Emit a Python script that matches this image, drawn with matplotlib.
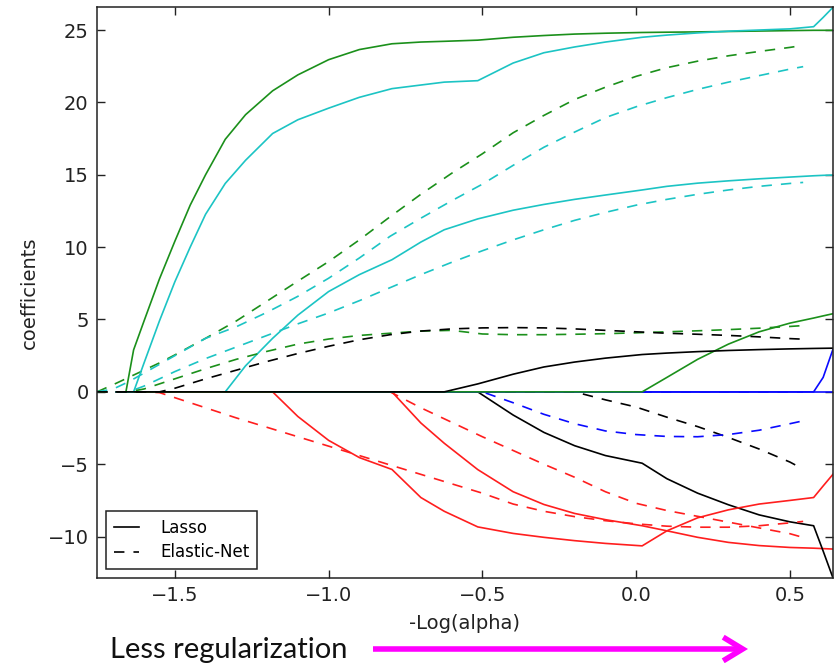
import matplotlib
matplotlib.use("Agg")
import matplotlib.pyplot as plt
from matplotlib.patches import FancyArrowPatch

plt.rcParams["lines.scale_dashes"] = False
plt.rcParams["font.family"] = ["DejaVu Sans"]

# -log10(alpha) grids of the two regularisation paths
lasso_x = [-1.69, -1.659, -1.634, -1.6, -1.55, -1.5, -1.45, -1.4, -1.336, -1.27,
           -1.182, -1.1, -1.0, -0.9, -0.794, -0.7, -0.624, -0.515, -0.4, -0.3,
           -0.2, -0.1, 0.0195, 0.1, 0.2, 0.3, 0.4, 0.5, 0.577, 0.608, 0.640]
enet_x = [-1.753, -1.7, -1.65, -1.6, -1.55, -1.5, -1.4, -1.3, -1.2, -1.1, -1.0,
          -0.9, -0.8, -0.7, -0.6, -0.5, -0.4, -0.3, -0.2, -0.1, 0.0, 0.1, 0.2,
          0.3, 0.4, 0.5, 0.543]

# Lasso coefficients per feature
lasso_age = [0.0] * 31
lasso_sex = [0.0] * 15 + [-2.15, -3.55, -5.37, -6.9, -7.78, -8.4, -8.83, -9.25,
                          -9.6, -10.05, -10.4, -10.62, -10.75, -10.8, -10.83, -10.86]
lasso_bmi = [0, 0, 2.9, 4.9, 7.8, 10.4, 12.9, 15.0, 17.45, 19.15, 20.8, 21.9,
             22.95, 23.65, 24.05, 24.17, 24.22, 24.3, 24.5, 24.62, 24.72, 24.78,
             24.83, 24.85, 24.87, 24.9, 24.93, 24.96, 24.98, 24.98, 24.98]
lasso_bp = [0.0] * 9 + [1.8, 3.7, 5.3, 6.93, 8.1, 9.13, 10.35, 11.2, 11.95, 12.55,
                        12.95, 13.3, 13.6, 13.95, 14.2, 14.42, 14.58, 14.72, 14.84,
                        14.93, 14.96, 14.98]
lasso_s1 = [0.0] * 18 + [-1.6, -2.8, -3.72, -4.4, -4.93, -6.0, -7.0, -7.8, -8.5,
                         -8.98, -9.25, -11.0, -12.86]
lasso_s2 = [0.0] * 29 + [1.0, 2.95]
lasso_s3 = [0.0] * 11 + [-1.7, -3.35, -4.54, -5.36, -7.3, -8.25, -9.33, -9.78,
                         -10.05, -10.28, -10.47, -10.64, -9.6, -8.7, -8.15, -7.75,
                         -7.5, -7.3, -6.5, -5.69]
lasso_s4 = [0.0] * 23 + [1.0, 2.25, 3.3, 4.15, 4.75, 5.1, 5.25, 5.4]
lasso_s5 = [0, 0, 0, 2.0, 4.9, 7.6, 10.0, 12.27, 14.4, 16.0, 17.85, 18.8, 19.6,
            20.35, 20.95, 21.2, 21.4, 21.5, 22.72, 23.43, 23.83, 24.17, 24.5,
            24.65, 24.8, 24.92, 25.0, 25.08, 25.23, 25.87, 26.57]
lasso_s6 = [0.0] * 17 + [0.55, 1.22, 1.72, 2.06, 2.33, 2.58, 2.68, 2.78, 2.86,
                         2.92, 2.97, 3.0, 3.01, 3.02]

# Elastic-Net coefficients per feature
enet_age = [0.0] * 27
enet_sex = [0.0] * 13 + [-1.1, -2.1, -3.1, -4.05, -5.0, -5.9, -6.9, -7.7, -8.2,
                         -8.6, -9.0, -9.4, -9.8, -10.06]
enet_bmi = [0, 0.5, 1.0, 1.5, 2.0, 2.55, 3.7, 4.9, 6.27, 7.65, 9.0, 10.5, 12.1,
            13.65, 15.1, 16.45, 17.9, 19.1, 20.2, 21.05, 21.8, 22.4, 22.85,
            23.22, 23.52, 23.8, 23.94]
enet_bp = [0, 0, 0, 0.4, 0.9, 1.4, 2.3, 3.1, 3.9, 4.7, 5.45, 6.3, 7.2, 8.1, 8.95,
           9.75, 10.5, 11.2, 11.85, 12.4, 12.9, 13.3, 13.65, 13.95, 14.2, 14.4,
           14.47]
enet_s1 = [0.0] * 19 + [-0.55, -1.05, -1.75, -2.4, -3.15, -3.95, -4.85, -5.34]
enet_s2 = [0.0] * 16 + [-0.75, -1.55, -2.2, -2.7, -2.95, -3.08, -3.1, -2.95,
                        -2.65, -2.2, -2.0]
enet_s3 = [0, 0, 0, 0, -0.05, -0.4, -1.1, -1.8, -2.45, -3.1, -3.75, -4.4, -5.05,
           -5.7, -6.35, -7.0, -7.75, -8.25, -8.62, -8.9, -9.12, -9.28, -9.35,
           -9.35, -9.25, -9.05, -8.95]
enet_s4 = [0, 0, 0, 0.2, 0.55, 0.9, 1.6, 2.25, 2.8, 3.3, 3.65, 3.9, 4.05, 4.2,
           4.25, 4.0, 3.95, 3.95, 3.98, 4.02, 4.08, 4.15, 4.22, 4.3, 4.4, 4.52,
           4.58]
enet_s5 = [0, 0.2, 0.7, 1.3, 1.9, 2.5, 3.7, 4.5, 5.5, 6.6, 7.85, 9.25, 10.75,
           12.0, 13.2, 14.35, 15.65, 16.9, 17.95, 18.95, 19.7, 20.33, 20.9, 21.4,
           21.85, 22.3, 22.47]
enet_s6 = [0, 0, 0, 0, 0, 0.25, 0.9, 1.5, 2.1, 2.65, 3.15, 3.6, 3.95, 4.2, 4.35,
           4.42, 4.44, 4.42, 4.35, 4.25, 4.15, 4.05, 3.98, 3.9, 3.8, 3.68, 3.64]

lasso_coefs = [lasso_age, lasso_sex, lasso_bmi, lasso_bp, lasso_s1,
               lasso_s2, lasso_s3, lasso_s4, lasso_s5, lasso_s6]
enet_coefs = [enet_age, enet_sex, enet_bmi, enet_bp, enet_s1,
              enet_s2, enet_s3, enet_s4, enet_s5, enet_s6]
colors = ["#0a0aff", "#ff1e1e", "#1b901b", "#1cc4c4", "#000000"] * 2

x_ticks = [-1.5, -1.0, -0.5, 0.0, 0.5]
y_ticks = [-10, -5, 0, 5, 10, 15, 20, 25]

W, H = 836, 663
fig = plt.figure(figsize=(W / 100, H / 100), dpi=100)
ax = fig.add_axes([97 / W, 1 - 578 / H, (833 - 97) / W, (578 - 7.3) / H])

for coef_l, coef_e, c in zip(lasso_coefs, enet_coefs, colors):
    l1 = ax.plot(lasso_x, coef_l, color=c, lw=1.2)
    l2 = ax.plot(enet_x, coef_e, color=c, lw=1.2, linestyle="--", dashes=(7.5, 6.5))

ax.set_xlim(-1.753, 0.640)
ax.set_ylim(-12.86, 26.57)
ax.set_xticks(x_ticks)
ax.set_xticklabels([f"{t:.1f}".replace("-", "\u2212") for t in x_ticks])
ax.set_yticks(y_ticks)
ax.set_yticklabels([f"{t}".replace("-", "\u2212") for t in y_ticks])
ax.tick_params(direction="in", length=5.5, width=1.0, labelsize=14, pad=6,
               top=True, right=True, colors="#222222", labelcolor="#222222")
for sp in ax.spines.values():
    sp.set_linewidth(1.1)
    sp.set_color("#222222")

ax.set_xlabel("-Log(alpha)", fontsize=14, labelpad=6, color="#222222")
ax.set_ylabel("coefficients", fontsize=14, labelpad=6, color="#222222")

leg = ax.legend((l1[-1], l2[-1]), ("Lasso", "Elastic-Net"), loc="lower left",
                fontsize=12, handlelength=1.5, borderaxespad=0.55, fancybox=False,
                framealpha=1, edgecolor="#222222", borderpad=0.45, labelspacing=0.4,
                handletextpad=1.3)
leg.get_frame().set_linewidth(1.1)

fig.text(110 / W, (H - 658) / H, "Less regularization", fontsize=21,
         family=["Lato", "DejaVu Sans"], color="#111111", va="baseline", ha="left")
arrow = FancyArrowPatch((373 / W, 1 - 649 / H), (748 / W, 1 - 649 / H),
                        transform=fig.transFigure,
                        arrowstyle="->,head_length=14,head_width=8.5",
                        mutation_scale=1, lw=4, color="#ff00ff",
                        shrinkA=0, shrinkB=0, joinstyle="miter", capstyle="butt")
fig.patches.append(arrow)

fig.savefig("out.png", dpi=100)
